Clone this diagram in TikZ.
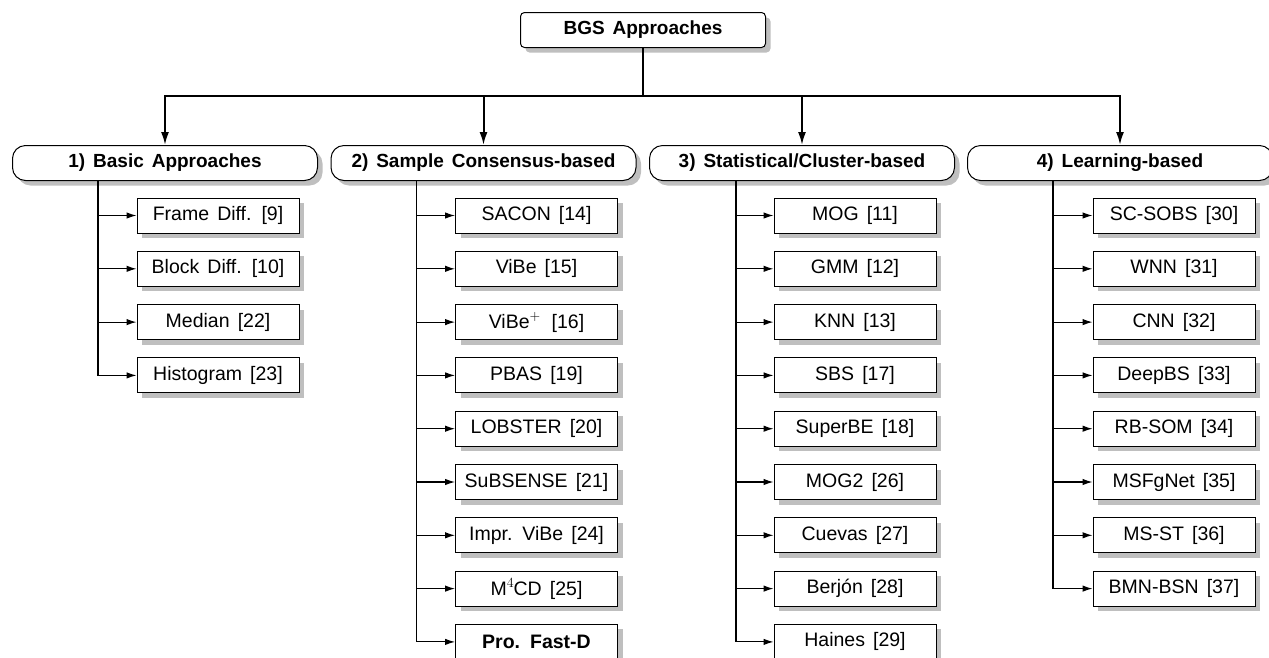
\documentclass[tikz,border=0pt]{standalone}
\usepackage{fontspec}
\setmainfont[WordSpace=1.5]{Liberation Sans}
\newfontfamily\lmr{Latin Modern Roman}
\usetikzlibrary{shadows,arrows.meta}
\newcommand\supx[1]{\raisebox{0.42em}{\lmr\fontsize{14}{14}\selectfont #1}}
\begin{document}
\begin{tikzpicture}[x=1pt,y=-1pt,
 font=\fontsize{19.5}{22}\selectfont,
 shad/.style={drop shadow={shadow xshift=5pt,shadow yshift=-5pt,fill=black!25,opacity=1}},
 topbox/.style={draw,line width=1pt,fill=white,rounded corners=4pt,minimum width=245pt,minimum height=35pt,inner sep=0pt,shad,font=\fontsize{19}{22}\selectfont\bfseries},
 catbox/.style={draw,line width=1pt,fill=white,rounded corners=13pt,minimum width=305pt,minimum height=35pt,inner sep=0pt,shad,font=\fontsize{19}{22}\selectfont\bfseries},
 leaf/.style={draw,line width=1pt,fill=white,minimum width=162pt,minimum height=35pt,inner sep=0pt,shad},
 big/.style={line width=2pt,-{Latex[length=13pt,width=8pt]}},
 small/.style={line width=1.1pt,-{Latex[length=10pt,width=6.5pt]}},
]
\useasboundingbox (0,0) rectangle (1269,657);
\clip (0,0) rectangle (1269,657);

\node[topbox] (top) at (643,30) {BGS Approaches};
\coordinate (h) at (643,96);

\node[catbox] (c1) at (165,163) {1) Basic Approaches};
\node[catbox] (c2) at (483.5,163) {2) Sample Consensus-based};
\node[catbox] (c3) at (802,163) {3) Statistical/Cluster-based};
\node[catbox] (c4) at (1120,163) {4) Learning-based};

\draw[line width=2pt] (top.south) -- (h);
\foreach \i in {1,2,3,4}{
  \draw[big] (h) -| (c\i.north);
}

\coordinate (t1) at (98,180.5);
\coordinate (t2) at (416.5,180.5);
\coordinate (t3) at (736,180.5);
\coordinate (t4) at (1053,180.5);

\foreach \t [count=\k from 0] in {Frame Diff. [9], Block Diff. [10], Median [22], Histogram [23]}{
  \node[leaf] (l1-\k) at (218,{215.5+53.3*\k}) {\t};
  \draw[small] (t1) |- (l1-\k.west);
}
\foreach \t [count=\k from 0] in {SACON [14], ViBe [15], ViBe\supx{+}\, [16], PBAS [19], LOBSTER [20], SuBSENSE [21], Impr. ViBe [24], M\supx{4}CD [25], \textbf{Pro. Fast-D}}{
  \node[leaf] (l2-\k) at (536.5,{215.5+53.3*\k}) {\t};
  \draw[small] (t2) |- (l2-\k.west);
}
\foreach \t [count=\k from 0] in {MOG [11], GMM [12], KNN [13], SBS [17], SuperBE [18], MOG2 [26], Cuevas [27], Berjón [28], Haines [29]}{
  \node[leaf] (l3-\k) at (855,{215.5+53.3*\k}) {\t};
  \draw[small] (t3) |- (l3-\k.west);
}
\foreach \t [count=\k from 0] in {SC-SOBS [30], WNN [31], CNN [32], DeepBS [33], RB-SOM [34], MSFgNet [35], MS-ST [36], BMN-BSN [37]}{
  \node[leaf] (l4-\k) at (1174,{215.5+53.3*\k}) {\t};
  \draw[small] (t4) |- (l4-\k.west);
}
\end{tikzpicture}
\end{document}
